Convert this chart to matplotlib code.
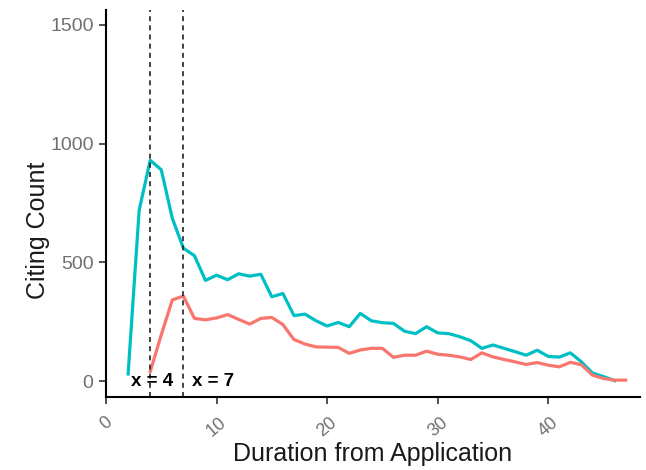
import matplotlib
matplotlib.use("Agg")
import matplotlib.pyplot as plt

plt.rcParams['font.family'] = ['Liberation Sans', 'DejaVu Sans']

# Data
teal_x = list(range(2, 47))
teal_y = [30, 720, 930, 890, 685, 560, 528, 424, 446, 427, 452, 442, 450, 355, 369,
          276, 282, 254, 232, 247, 229, 285, 254, 246, 243, 210, 200, 229, 203, 200,
          187, 170, 138, 152, 138, 124, 109, 130, 104, 101, 119, 81, 34, 19, 2]

red_x = list(range(4, 48))
red_y = [40, 195, 342, 358, 264, 258, 266, 280, 260, 240, 264, 268, 238, 175, 156,
         144, 143, 142, 117, 131, 138, 138, 100, 109, 109, 126, 113, 109, 102, 91,
         119, 102, 91, 81, 70, 78, 67, 60, 79, 69, 25, 11, 4, 4]

vlines = [4, 7]
vline_labels = ["x = 4", "x = 7"]
label_x = [4.16, 9.7]

x_ticks = [0, 10, 20, 30, 40]
y_ticks = [0, 500, 1000, 1500]

TEAL = "#00BFC4"
RED = "#F8766D"

fig = plt.figure(figsize=(6.46, 4.70), dpi=100)
ax = fig.add_axes([106 / 646, 73 / 470, (640 - 106) / 646, 387 / 470])

ax.plot(teal_x, teal_y, color=TEAL, lw=2.3, solid_joinstyle='round')
ax.plot(red_x, red_y, color=RED, lw=2.3, solid_joinstyle='round')

for v in vlines:
    ax.axvline(v, color='#222222', lw=1.2, linestyle=(0, (3, 2.5)))

for lx, lab in zip(label_x, vline_labels):
    ax.text(lx, 0, lab, ha='center', va='center', fontweight='bold',
            fontsize=13.5, color='black')

ax.set_xlim(0, 48.3)
ax.set_ylim(-67, 1563)
ax.set_xticks(x_ticks)
ax.set_yticks(y_ticks)
ax.set_xticklabels([str(t) for t in x_ticks], rotation=40, ha='center')

for s in ['top', 'right']:
    ax.spines[s].set_visible(False)
for s in ['left', 'bottom']:
    ax.spines[s].set_linewidth(1.5)
    ax.spines[s].set_color('black')

ax.tick_params(axis='both', direction='out', length=5, width=1.2,
               color='#333333', labelcolor='#707070', labelsize=14)
ax.tick_params(axis='x', pad=7, labelsize=13)
ax.tick_params(axis='y', pad=4)

ax.set_xlabel("Duration from Application", fontsize=18, color='#1a1a1a')
ax.set_ylabel("Citing Count", fontsize=18, color='#1a1a1a')
ax.yaxis.set_label_coords(-0.105, 0.43)
ax.xaxis.set_label_coords(0.5, -0.117)

fig.savefig("out.png", dpi=100)
